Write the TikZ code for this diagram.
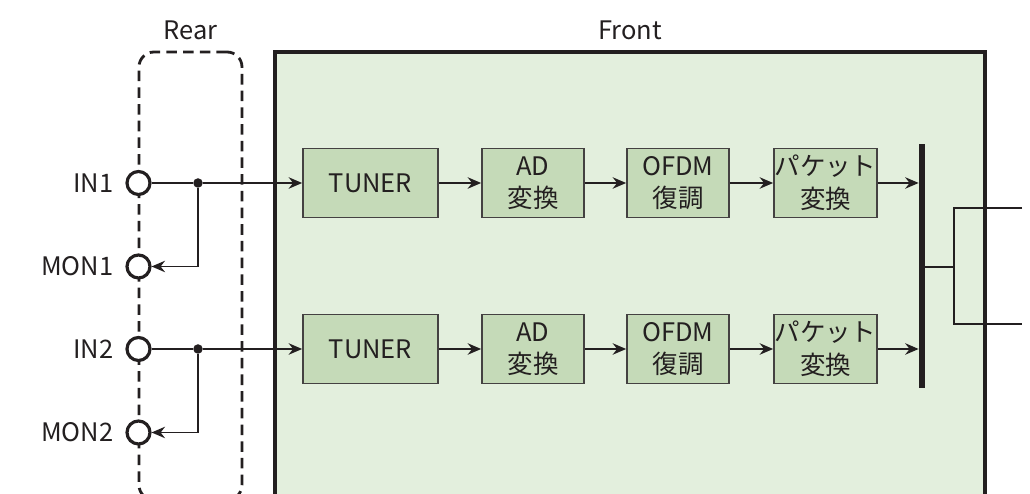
\documentclass[tikz,border=0pt]{standalone}
\usepackage{fontspec}
\setmainfont{Noto Sans CJK JP}
\usetikzlibrary{positioning,arrows.meta}
\definecolor{linecol}{HTML}{231F20}
\definecolor{frontcol}{HTML}{E3EFDD}
\definecolor{blockcol}{HTML}{C5DAB8}
\tikzset{
  frontbox/.style={draw=linecol, line width=1.9pt, fill=frontcol,
    minimum width=14.2cm, minimum height=9.36cm},
  rearbox/.style={draw=linecol, line width=1.6pt, dash pattern=on 6pt off 3.5pt,
    rounded corners=0.3cm, minimum width=2.06cm, minimum height=8.96cm},
  blk/.style={draw=linecol!85, line width=1pt, fill=blockcol, text=linecol,
    minimum height=1.38cm, align=center, inner sep=0pt},
  term/.style={circle, draw=linecol, line width=1.8pt, fill=white,
    minimum size=0.46cm, inner sep=0pt},
  portlab/.style={text=linecol, inner sep=1pt},
  junc/.style={circle, fill=linecol, minimum size=0.19cm, inner sep=0pt},
  busbar/.style={fill=linecol, minimum width=0.12cm, minimum height=4.88cm,
    inner sep=0pt},
  wire/.style={draw=linecol, line width=0.95pt},
  sig/.style={-{Stealth[length=2.7mm,width=2.3mm,inset=0.9mm]}, draw=linecol,
    line width=0.95pt}}
\begin{document}
\begin{tikzpicture}[font=\fontsize{14.5}{18.5}\selectfont]
  \useasboundingbox (0,0) rectangle (20.6,9.88);
  \clip (0,0) rectangle (20.6,9.88);
  \node[frontbox] (front) at (12.6,4.16) {};
  \node[rearbox] (rear) at (3.81,4.36) {};
  \node[text=linecol] (fronttitle) at (12.6,9.28) {Front};
  \node[text=linecol] (reartitle) at (3.81,9.28) {Rear};
  \node[busbar] (bus) at (18.44,4.56) {};
  \foreach \r/\y in {1/6.22,2/2.90} {
    \node[term] (in\r) at (2.77,\y) {};
    \node[portlab, left=0.2cm of in\r] (inlab\r) {IN\r};
    \node[term] (mon\r) at (2.77,\y-1.67) {};
    \node[portlab, left=0.2cm of mon\r] (monlab\r) {MON\r};
    \node[junc] (j\r) at (3.96,\y) {};
    \node[blk, minimum width=2.7cm] (tuner\r) at (7.41,\y) {TUNER};
    \node[blk, minimum width=2.04cm] (ad\r) at (10.66,\y) {AD\\変換};
    \node[blk, minimum width=2.04cm] (ofdm\r) at (13.56,\y) {OFDM\\復調};
    \node[blk, minimum width=2.06cm] (pkt\r) at (16.51,\y) {パケット\\変換};
    \draw[wire] (in\r) -- (j\r);
    \draw[sig] (j\r) -- (tuner\r);
    \draw[sig] (j\r) |- (mon\r);
    \draw[sig] (tuner\r) -- (ad\r);
    \draw[sig] (ad\r) -- (ofdm\r);
    \draw[sig] (ofdm\r) -- (pkt\r);
    \draw[sig] (pkt\r) -- (pkt\r -| bus.west);
  }
  % outputs leave through the right edge
  \coordinate (brk) at (19.08,4.54);
  \coordinate (out1) at (20.44,5.72);
  \coordinate (out2) at (20.44,3.40);
  \draw[wire] (bus.east |- brk) -- (brk);
  \draw[wire] (out1) -| (brk) |- (out2);
\end{tikzpicture}
\end{document}
